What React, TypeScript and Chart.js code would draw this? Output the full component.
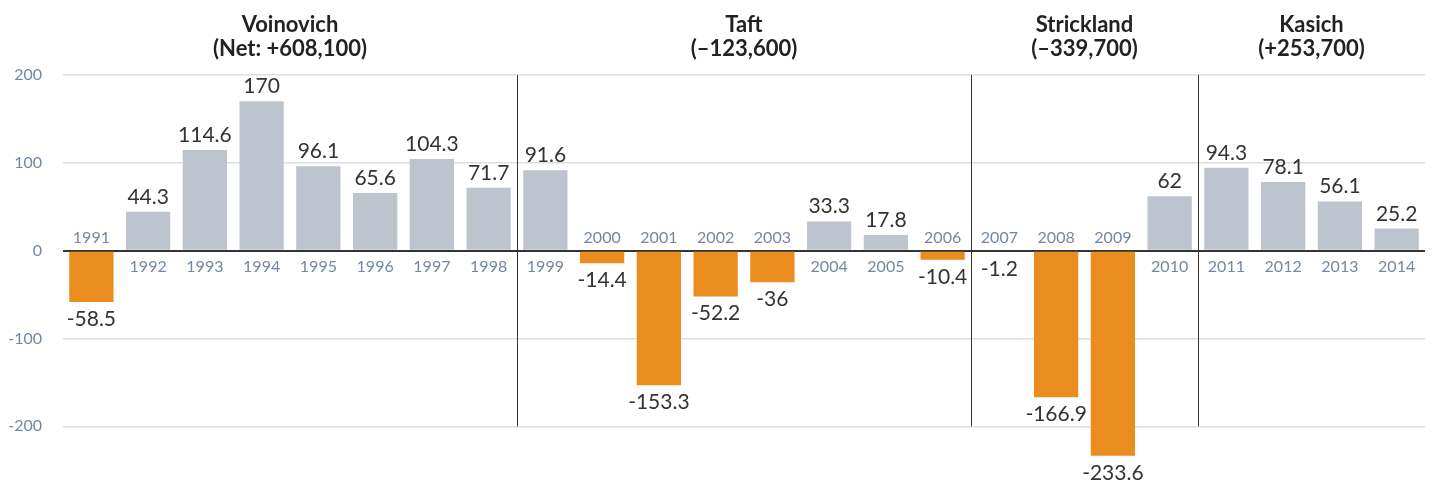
import React, { useEffect, useRef } from "react";
import { Chart, registerables } from "chart.js";

Chart.register(...registerables);

const years = [
  "1991", "1992", "1993", "1994", "1995", "1996", "1997", "1998",
  "1999", "2000", "2001", "2002", "2003", "2004", "2005", "2006",
  "2007", "2008", "2009", "2010", "2011", "2012", "2013", "2014",
];
const values = [
  -58.5, 44.3, 114.6, 170, 96.1, 65.6, 104.3, 71.7,
  91.6, -14.4, -153.3, -52.2, -36, 33.3, 17.8, -10.4,
  -1.2, -166.9, -233.6, 62, 94.3, 78.1, 56.1, 25.2,
];
const groupNames = ["Voinovich", "Taft", "Strickland", "Kasich"];
const groupNets = ["(Net: +608,100)", "(–123,600)", "(–339,700)", "(+253,700)"];
const groupLastYears = ["1998", "2006", "2010", "2014"];
const yTicks = [200, 100, 0, -100, -200];

const GRAY = "#bdc4ce";
const ORANGE = "#ea8c1e";
const YEAR_COLOR = "#7587a0";
const TEXT_COLOR = "#333333";
const FONT = "Lato, 'Open Sans', sans-serif";

const labelPlugin = {
  id: "customLabels",
  afterDatasetsDraw(chart: any) {
    const { ctx, chartArea } = chart;
    const xs = chart.scales.x;
    const ys = chart.scales.y;
    const zeroY = ys.getPixelForValue(0);
    ctx.save();
    ctx.textAlign = "center";
    ctx.textBaseline = "alphabetic";

    values.forEach((v, i) => {
      const x = xs.getPixelForValue(i);
      const top = ys.getPixelForValue(v);
      ctx.font = `400 16px ${FONT}`;
      ctx.fillStyle = YEAR_COLOR;
      if (v >= 0) {
        ctx.fillText(years[i], x, zeroY + 21);
      } else {
        ctx.fillText(years[i], x, zeroY - 8);
      }
      ctx.font = `400 21px ${FONT}`;
      ctx.fillStyle = TEXT_COLOR;
      if (v >= 0) {
        ctx.fillText(String(v), x, top - 8);
      } else {
        ctx.fillText(String(v), x, top + 24);
      }
    });

    const top200 = ys.getPixelForValue(200);
    const bottom200 = ys.getPixelForValue(-200);
    let left = chartArea.left;
    groupLastYears.forEach((yr, g) => {
      const idx = years.indexOf(yr);
      let right = chartArea.right;
      if (idx < years.length - 1) {
        right = (xs.getPixelForValue(idx) + xs.getPixelForValue(idx + 1)) / 2;
        ctx.strokeStyle = "#333";
        ctx.lineWidth = 1;
        ctx.beginPath();
        ctx.moveTo(Math.round(right) + 0.5, top200);
        ctx.lineTo(Math.round(right) + 0.5, bottom200);
        ctx.stroke();
      }
      const cx = (left + right) / 2;
      ctx.fillStyle = "#222";
      ctx.font = `700 22px ${FONT}`;
      ctx.fillText(groupNames[g], cx, 32);
      ctx.fillText(groupNets[g], cx, 56);
      left = right;
    });
    ctx.restore();
  },
};

export default function App() {
  const ref = useRef<HTMLCanvasElement>(null);
  useEffect(() => {
    document.body.style.margin = "0";
    const chart = new Chart(ref.current!, {
      type: "bar",
      data: {
        labels: years,
        datasets: [
          {
            data: values,
            backgroundColor: values.map((v) => (v >= 0 ? GRAY : ORANGE)),
            categoryPercentage: 1,
            barPercentage: 0.78,
          },
        ],
      },
      options: {
        animation: false,
        responsive: true,
        maintainAspectRatio: false,
        layout: { padding: { top: 75, bottom: 3, right: 15, left: 0 } },
        plugins: { legend: { display: false }, tooltip: { enabled: false } },
        scales: {
          x: { display: false },
          y: {
            min: -260,
            max: 200,
            afterBuildTicks: (s: any) => {
              s.ticks = yTicks.map((v) => ({ value: v }));
            },
            afterFit: (s: any) => {
              s.width = 63;
              s.paddingTop = 0;
              s.paddingBottom = 0;
            },
            border: { display: false },
            grid: {
              drawTicks: false,
              color: (c: any) => (c.tick && c.tick.value === 0 ? "#333" : "#dedede"),
              lineWidth: (c: any) => (c.tick && c.tick.value === 0 ? 2 : 1.5),
            },
            ticks: {
              padding: 21,
              color: YEAR_COLOR,
              font: { family: FONT, size: 16, weight: "400" },
              callback: (v: any) => String(v),
            },
          },
        },
      },
      plugins: [labelPlugin],
    });
    if ((document as any).fonts) {
      (document as any).fonts.ready.then(() => chart.update());
    }
    return () => chart.destroy();
  }, []);
  return (
    <div style={{ width: 1440, height: 482, position: "relative" }}>
      <canvas ref={ref} />
    </div>
  );
}
